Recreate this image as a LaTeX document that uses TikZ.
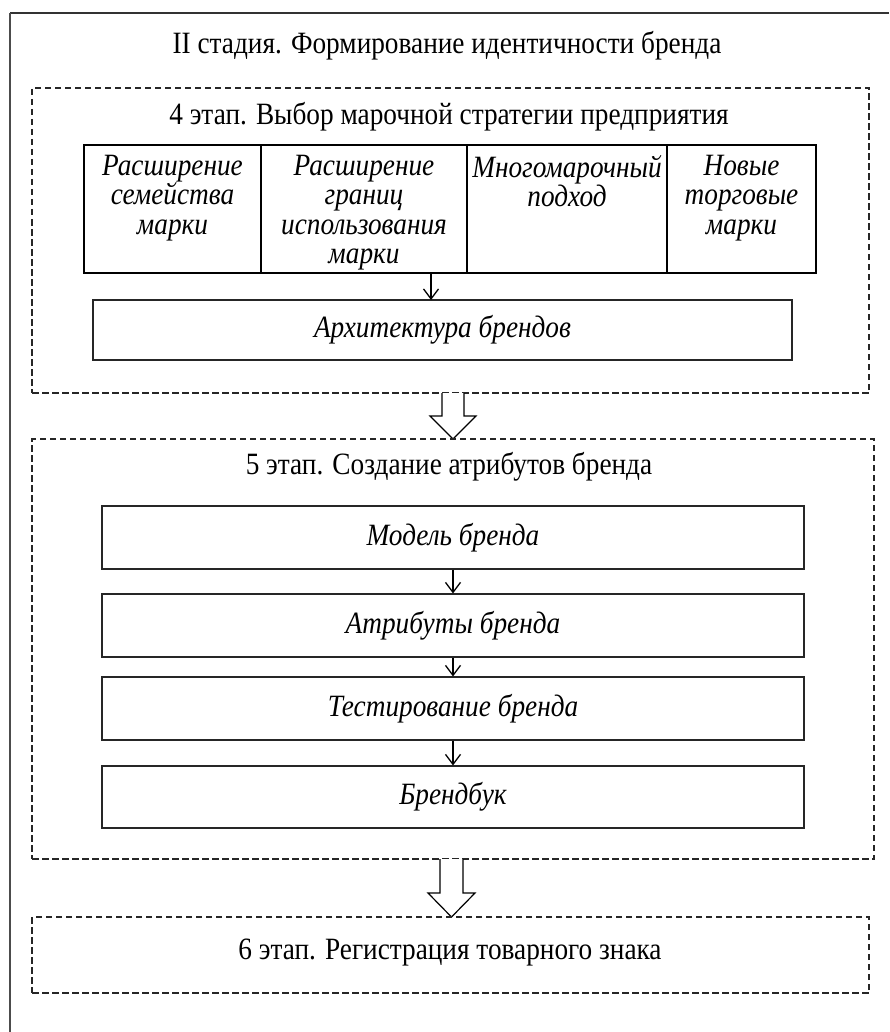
\documentclass[tikz,border=0pt]{standalone}
\usepackage{fontspec}
\setmainfont{Liberation Serif}[FakeStretch=0.88]
\usetikzlibrary{arrows.meta,positioning}
\begin{document}
\begin{tikzpicture}[x=1pt,y=-1pt,
  stagebox/.style={draw=black!85,line width=1.1pt,dash pattern=on 6.5pt off 3.5pt,rectangle,inner sep=0pt},
  colbox/.style={draw=black,line width=1.8pt,rectangle,inner sep=0pt,minimum height=128pt},
  itembox/.style={draw=black!85,line width=1.1pt,rectangle,inner sep=0pt,font=\fontsize{31}{34}\selectfont\itshape},
  coltext/.style={align=center,font=\fontsize{31}{29.5}\selectfont\itshape,inner sep=0pt},
  headtext/.style={font=\fontsize{31}{34}\selectfont,inner sep=0pt},
  smallarrow/.style={-{Straight Barb[length=10pt,width=15pt,line width=1.3pt]},line width=1.3pt},
  bigarrow/.style={draw=black,fill=white,line width=1.2pt,line join=miter}
]
\useasboundingbox (0,0) rectangle (889,1032);
% outer frame (clipped by page)
\draw[black!80,line width=1.8pt] (10,13) -- (889,13);
\draw[black!70,line width=1.8pt] (10,13) -- (10,1032);
\node[headtext] (title) at (447,46) {II стадия. Формирование идентичности бренда};

% stage 4
\node[stagebox,minimum width=837pt,minimum height=305pt] (s4) at (450.5,240.5) {};
\node[headtext] (s4t) at (449,117) {4 этап. Выбор марочной стратегии предприятия};
\node[colbox,minimum width=177pt] (c1) at (172.5,209) {};
\node[colbox,minimum width=206pt] (c2) at (364,209) {};
\node[colbox,minimum width=200pt] (c3) at (567,209) {};
\node[colbox,minimum width=149pt] (c4) at (741.5,209) {};
\node[coltext,anchor=north] (t1) at (172.5,155) {Расширение\\семейства\\марки};
\node[coltext,anchor=north] (t2) at (364,155) {Расширение\\границ\\использования\\марки};
\node[coltext,anchor=north] (t3) at (567,155) {Многомарочный\\подход};
\node[coltext,anchor=north] (t4) at (741.5,155) {Новые\\торговые\\марки};
\node[itembox,minimum width=699pt,minimum height=60pt] (arch) at (442.5,330) {Архитектура брендов};
\coordinate (a1s) at (431,273);
\coordinate (a1e) at (431,300);
\draw[smallarrow] (a1s) -- (a1e);

% big arrow 1
\draw[bigarrow] (442,393) -- (442,416) -- (430,416) -- (453,439) -- (476,416) -- (464,416) -- (464,393);

% stage 5
\node[stagebox,minimum width=842pt,minimum height=420pt] (s5) at (453,649) {};
\node[headtext] (s5t) at (449,467) {5 этап. Создание атрибутов бренда};
\node[itembox,minimum width=702pt,minimum height=63pt] (b1) at (453,537.5) {Модель бренда};
\node[itembox,minimum width=702pt,minimum height=63pt] (b2) at (453,625.5) {Атрибуты бренда};
\node[itembox,minimum width=702pt,minimum height=63pt] (b3) at (453,708.5) {Тестирование бренда};
\node[itembox,minimum width=702pt,minimum height=62pt] (b4) at (453,797) {Брендбук};
\draw[smallarrow] (b1.south) -- (b2.north);
\draw[smallarrow] (b2.south) -- (b3.north);
\draw[smallarrow] (b3.south) -- (b4.north);

% big arrow 2
\draw[bigarrow] (440,859) -- (440,893) -- (428,893) -- (451.5,917) -- (475,893) -- (463,893) -- (463,859);

% stage 6
\node[stagebox,minimum width=837pt,minimum height=76pt] (s6) at (450.5,955) {};
\node[headtext] (s6t) at (450,953) {6 этап. Регистрация товарного знака};
\end{tikzpicture}
\end{document}
